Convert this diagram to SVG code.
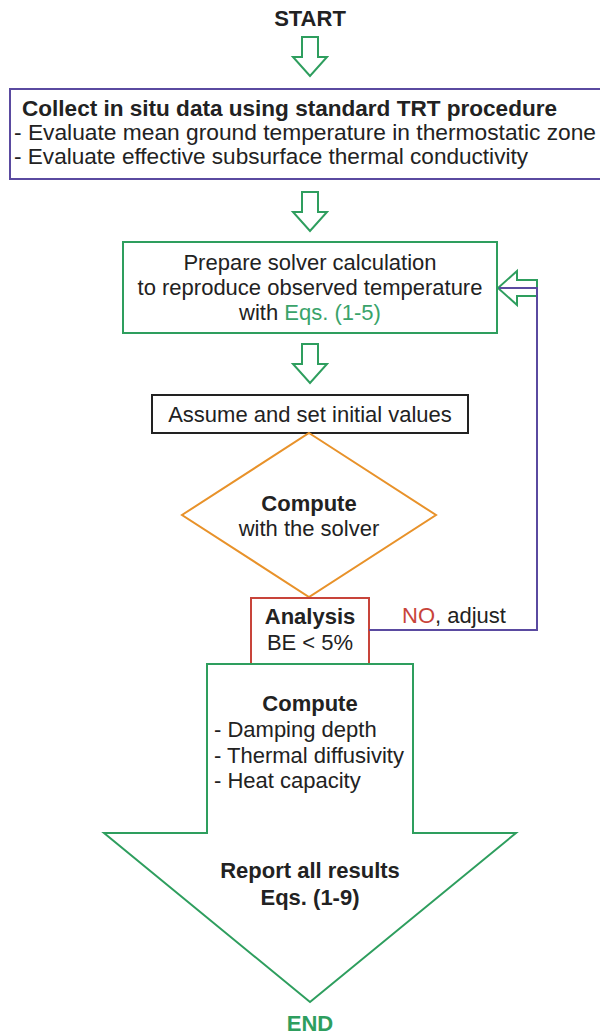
<svg xmlns="http://www.w3.org/2000/svg" width="600" height="1035" viewBox="0 0 600 1035">
<defs>
<style>
text{font-family:"Liberation Sans",Arial,sans-serif;font-size:22px;fill:#222}
.b{font-weight:bold}
.c{text-anchor:middle}
.g{fill:#3aa36a}
.r{fill:#c8443a}
.arr{fill:#fff;stroke:#2e9e5e;stroke-width:2;stroke-linejoin:miter}
.link{fill:none;stroke:#5a4aa0;stroke-width:2}
</style>
</defs>
<rect width="600" height="1035" fill="#fff"/>
<g id="start"><text class="b c" x="310" y="26">START</text></g>
<g id="collect">
<rect x="10" y="89" width="596" height="90" fill="#fff" stroke="#5a4aa0" stroke-width="2"/>
<text class="b" x="22" y="116" textLength="535" lengthAdjust="spacingAndGlyphs">Collect in situ data using standard TRT procedure</text>
<text x="14" y="140" textLength="582" lengthAdjust="spacingAndGlyphs">- Evaluate mean ground temperature in thermostatic zone</text>
<text x="14" y="164" textLength="514" lengthAdjust="spacingAndGlyphs">- Evaluate effective subsurface thermal conductivity</text>
</g>
<g id="prepare">
<rect x="123" y="242" width="374" height="91" fill="#fff" stroke="#2e9e5e" stroke-width="2"/>
<text class="c" x="310" y="270">Prepare solver calculation</text>
<text class="c" x="310" y="295">to reproduce observed temperature</text>
<text class="c" x="310" y="320">with <tspan class="g">Eqs. (1-5)</tspan></text>
</g>
<g id="assume">
<rect x="152" y="395" width="316" height="38" fill="#fff" stroke="#222" stroke-width="2"/>
<text class="c" x="310" y="422">Assume and set initial values</text>
</g>
<g id="compute">
<polygon points="309,433 436,515 309,597 182,515" fill="#fff" stroke="#e8922a" stroke-width="2"/>
<text class="b c" x="309" y="511">Compute</text>
<text class="c" x="309" y="536">with the solver</text>
</g>
<g id="analysis">
<rect x="251" y="598" width="118" height="66" fill="#fff" stroke="#c8443a" stroke-width="2"/>
<text class="b c" x="310" y="624">Analysis</text>
<text class="c" x="310" y="650">BE &lt; 5%</text>
</g>
<g id="report">
<path class="arr" d="M207,664 H413 V833 H516 L310,1002 L104,833 H207 Z"/>
<text class="b c" x="310" y="711">Compute</text>
<text x="214" y="737">- Damping depth</text>
<text x="214" y="763">- Thermal diffusivity</text>
<text x="214" y="788">- Heat capacity</text>
<text class="b c" x="310" y="878">Report all results</text>
<text class="b c" x="310" y="905">Eqs. (1-9)</text>
</g>
<g id="end"><text class="b c" x="310" y="1031" style="fill:#2e9e5e">END</text></g>
<g id="connectors">
<path class="arr" d="M302,37 H318 V57 H327 L310,76 L293,57 H302 Z"/>
<path class="arr" d="M302,192 H318 V212 H327 L310,231 L293,212 H302 Z"/>
<path class="arr" d="M302,344 H318 V364 H327 L310,383 L293,364 H302 Z"/>
<path class="arr" d="M537,280 H517 V271 L498,288 L517,305 V296 H537 Z"/>
<path class="link" d="M369,630 H537 V288 H499"/>
<text x="402" y="623"><tspan class="r">NO</tspan>, adjust</text>
</g>
</svg>
